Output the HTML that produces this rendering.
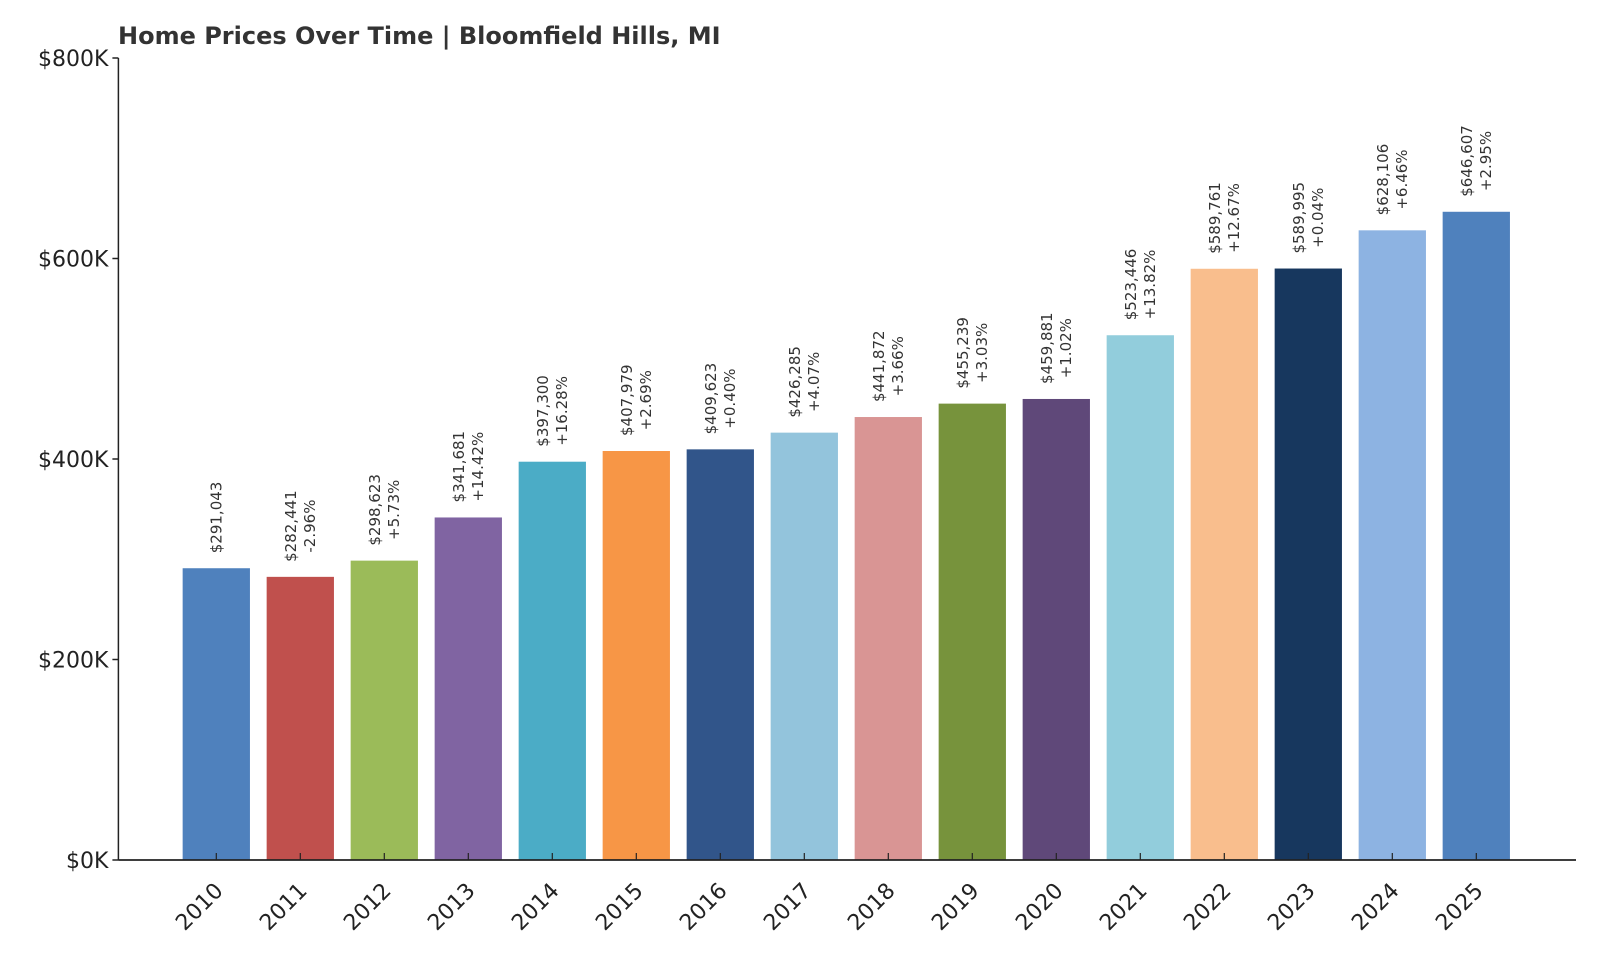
<!DOCTYPE html>
<html><head><meta charset="utf-8"><style>
body{margin:0;background:#fff;}
svg{display:block;font-family:"DejaVu Sans","Liberation Sans",sans-serif;}
</style></head><body>
<svg id="chart" width="1600" height="960">
<text x="118" y="44" font-size="24" font-weight="bold" fill="#333">Home Prices Over Time | Bloomfield Hills, MI</text>
<g id="yaxis"></g>
<g id="bars"></g>
<g id="xaxis"></g>
</svg>
<script>
const years = ["2010","2011","2012","2013","2014","2015","2016","2017","2018","2019","2020","2021","2022","2023","2024","2025"];
const prices = [291043,282441,298623,341681,397300,407979,409623,426285,441872,455239,459881,523446,589761,589995,628106,646607];
const changes = ["","-2.96%","+5.73%","+14.42%","+16.28%","+2.69%","+0.40%","+4.07%","+3.66%","+3.03%","+1.02%","+13.82%","+12.67%","+0.04%","+6.46%","+2.95%"];
const yTicks = [0,200000,400000,600000,800000];
const yTickLabels = ["$0K","$200K","$400K","$600K","$800K"];
const colors = ["#4f81bd","#c0504d","#9bbb59","#8064a2","#4bacc6","#f79646","#31558a","#93c4dc","#d99594","#77933c","#5f4879","#92cddc","#f9be8d","#17375e","#8db3e2","#4f81bd"];

const NS="http://www.w3.org/2000/svg";
const X0=118.4, X1=1576, Y0=860, Y1=58, YMAX=800000;
const step=84, first=216.3, bw=67.3;
const xs=i=>first+i*step;
const ys=v=>Y0-(v/YMAX)*(Y0-Y1);
function mk(t,a,p){const e=document.createElementNS(NS,t);for(const k in a)e.setAttribute(k,a[k]);p.appendChild(e);return e;}
const ya=document.getElementById('yaxis'), ba=document.getElementById('bars'), xa=document.getElementById('xaxis');

yTicks.forEach((v,i)=>{
  const y=ys(v);
  const l=mk('line',{x1:X0-6,x2:X0,y1:y,y2:y,stroke:'#222','stroke-width':1.5},ya);
  
  
  const t=mk('text',{x:X0-10,y:y+8,'font-size':22,'text-anchor':'end',fill:'#222'},ya);
  t.textContent=yTickLabels[i];
  
  
});

prices.forEach((p,i)=>{
  const cx=xs(i), top=ys(p);
  const r=mk('rect',{x:cx-bw/2,y:top,width:bw,height:Y0-top,fill:colors[i]},ba);
  
  
  const lines=["$"+p.toLocaleString('en-US')];
  if(changes[i])lines.push(changes[i]);
  const g=mk('g',{},ba);
  
  
  const tmp=[];
  lines.forEach((s,j)=>{
    const off=(j-(lines.length-1)/2)*19;
    const t=mk('text',{'font-size':15,'text-anchor':'middle',fill:'#333'},g);
    t.textContent=s;
    tmp.push([t,off]);
  });
  let maxL=0; tmp.forEach(([t])=>{maxL=Math.max(maxL,t.getComputedTextLength());});
  const cy=top-15-maxL/2;
  tmp.forEach(([t,off])=>{
    const px=cx+off+5;
    t.setAttribute('x',px);t.setAttribute('y',cy);
    t.setAttribute('transform','rotate(-90 '+px+' '+cy+')');
  });
  const tk=mk('line',{x1:cx,x2:cx,y1:Y0,y2:Y0-7,stroke:'#222','stroke-width':1.2},xa);
  
  
  const lx=cx+8, ly=Y0+32;
  const tl=mk('text',{x:lx,y:ly,'font-size':22,'text-anchor':'end',fill:'#222',transform:'rotate(-45 '+lx+' '+ly+')'},xa);
  tl.textContent=years[i];
  
  
});
const la=mk('line',{x1:X0,x2:X0,y1:Y1,y2:Y0,stroke:'#222','stroke-width':1.5},ya);


const lb=mk('line',{x1:X0,x2:X1,y1:Y0,y2:Y0,stroke:'#222','stroke-width':1.8},xa);


</script>
</body></html>
